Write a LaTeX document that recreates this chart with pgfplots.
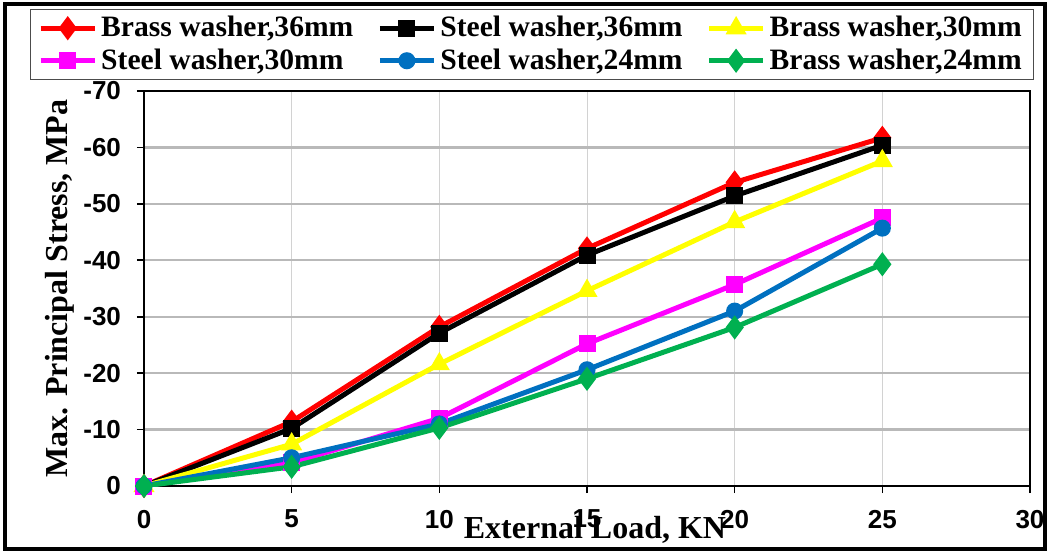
\documentclass[border=0pt]{standalone}
\usepackage{fontspec}
\setmainfont{Liberation Serif}
\newfontfamily\arialfont{Liberation Sans}
\usepackage{pgfplots}
\pgfplotsset{compat=1.18}
\definecolor{exred}{RGB}{255,0,0}
\definecolor{exyellow}{RGB}{255,255,0}
\definecolor{exmag}{RGB}{255,0,255}
\definecolor{exblue}{RGB}{0,112,192}
\definecolor{exgreen}{RGB}{0,176,80}
\begin{document}
\begin{tikzpicture}
\begin{axis}[
  at={(0,0)}, anchor=south west,
  scale only axis,
  width=443pt, height=197.5pt,
  xmin=0, xmax=30, ymin=-70, ymax=0,
  y dir=reverse,
  xtick={0,5,10,15,20,25,30},
  xticklabels={0,5,10,15,20,25,30},
  ytick={-70,-60,-50,-40,-30,-20,-10,0},
  yticklabels={-70,-60,-50,-40,-30,-20,-10,0},
  tick align=outside,
  major tick length=3.5pt,
  xtick pos=bottom, ytick pos=left,
  tick style={black, line width=0.8pt},
  axis line style={black, line width=0.8pt},
  grid=major,
  major x grid style={gray!35, line width=0.5pt},
  major y grid style={gray!55, line width=1.2pt},
  /pgf/number format/assume math mode=true,
  tick label style={font=\arialfont\bfseries\fontsize{13}{14}\selectfont},
  xticklabel style={yshift=-5pt},
  yticklabel style={xshift=-4.5pt},
  xlabel={External Load, KN},
  ylabel={Max. Principal Stress, MPa},
  label style={font=\bfseries\fontsize{16}{18}\selectfont},
  xlabel style={at={(axis description cs:0.509,-0.111)}, anchor=center},
  ylabel style={at={(axis description cs:-0.0948,0.5)}, anchor=center, rotate=0},
  legend columns=3,
  legend cell align=left,
  legend style={at={(axis description cs:0.5,1)}, anchor=south,
    xshift=-27.5pt, yshift=5.5pt,
    draw=black!70, line width=0.5pt,
    font=\bfseries\fontsize{14.8}{15}\selectfont,
    inner xsep=4pt, inner ysep=1.5pt, row sep=0.5pt,
    /tikz/every even column/.append style={column sep=10pt}},
  legend image code/.code={\draw[mark repeat=2,mark phase=2]
    plot coordinates {(0pt,0pt) (13.5pt,0pt) (27pt,0pt)};},
  every axis plot/.append style={line width=2.5pt},
]
\addplot[exred, mark=diamond*, mark size=4pt] coordinates
  {(0,0)(5,-11.4)(10,-28.2)(15,-42.1)(20,-53.8)(25,-61.7)};
\addlegendentry{Brass washer,36mm}
\addplot[black, mark=square*, mark size=3pt] coordinates
  {(0,0)(5,-10.2)(10,-27.1)(15,-40.9)(20,-51.4)(25,-60.4)};
\addlegendentry{Steel washer,36mm}
\addplot[exyellow, mark=triangle*, mark size=3.6pt] coordinates
  {(0,0)(5,-7.4)(10,-21.6)(15,-34.6)(20,-46.8)(25,-57.6)};
\addlegendentry{Brass washer,30mm}
\addplot[exmag, mark=square*, mark size=3pt] coordinates
  {(0,0)(5,-4.1)(10,-12.0)(15,-25.2)(20,-35.7)(25,-47.5)};
\addlegendentry{Steel washer,30mm}
\addplot[exblue, mark=*, mark size=3pt] coordinates
  {(0,0)(5,-5.0)(10,-11.0)(15,-20.6)(20,-31.0)(25,-45.7)};
\addlegendentry{Steel washer,24mm}
\addplot[exgreen, mark=diamond*, mark size=4pt] coordinates
  {(0,0)(5,-3.4)(10,-10.3)(15,-19.0)(20,-28.1)(25,-39.3)};
\addlegendentry{Brass washer,24mm}
\end{axis}
\draw[line width=2.2pt] (-69.5pt,-31.5pt) rectangle (450.5pt,241pt);
\pgfresetboundingbox
\path[use as bounding box] (-72pt,-33pt) rectangle (452.5pt,243pt);
\end{tikzpicture}
\end{document}
